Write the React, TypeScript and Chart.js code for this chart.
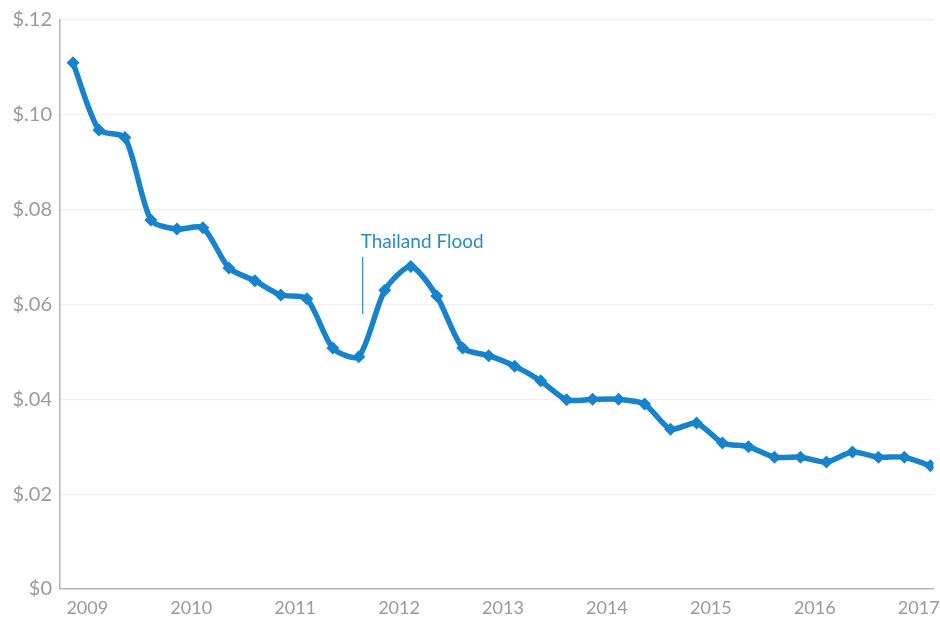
import React, { useEffect, useRef } from "react";
import { Chart, registerables } from "chart.js";

Chart.register(...registerables);

// Quarterly cost per GB (USD), 2009 – 2017
const costPerGB: number[] = [
  0.111, 0.0968, 0.0952, 0.0778, 0.0759, 0.0762, 0.0677, 0.065, 0.062, 0.0612,
  0.0508, 0.049, 0.063, 0.068, 0.0618, 0.0508, 0.0492, 0.047, 0.0439, 0.0399,
  0.04, 0.04, 0.039, 0.0337, 0.035, 0.0308, 0.030, 0.0278, 0.0278, 0.0268,
  0.0289, 0.0278, 0.0278, 0.026,
];
const yearLabels: string[] = ["2009", "2010", "2011", "2012", "2013", "2014", "2015", "2016", "2017"];
const yTicks: number[] = [0, 0.02, 0.04, 0.06, 0.08, 0.1, 0.12];
const annotationText = "Thailand Flood";
const annotationIndex = 11.15;
const annotationTop = 0.07;
const annotationBottom = 0.058;
const annotationLabelY = 0.0732;

const LINE_COLOR = "#1683cc";
const TICK_COLOR = "#9a9a9a";

export default function App() {
  const ref = useRef<HTMLCanvasElement | null>(null);

  useEffect(() => {
    document.body.style.margin = "0";
    const canvas = ref.current;
    if (!canvas) return;

    const annotationPlugin = {
      id: "floodNote",
      afterDatasetsDraw(chart: any) {
        const { ctx, scales } = chart;
        const x = scales.x.getPixelForValue(annotationIndex);
        const y1 = scales.y.getPixelForValue(annotationTop);
        const y2 = scales.y.getPixelForValue(annotationBottom);
        const yl = scales.y.getPixelForValue(annotationLabelY);
        ctx.save();
        ctx.strokeStyle = "#2b8bbf";
        ctx.lineWidth = 1.2;
        ctx.beginPath();
        ctx.moveTo(x, y1);
        ctx.lineTo(x, y2);
        ctx.stroke();
        ctx.fillStyle = "#2b8bbf";
        ctx.font = "19px Lato";
        ctx.textAlign = "left";
        ctx.textBaseline = "middle";
        ctx.fillText(annotationText, x - 2, yl);
        ctx.restore();
      },
    };

    const chart = new Chart(canvas, {
      type: "line",
      data: {
        datasets: [
          {
            data: costPerGB.map((v, i) => ({ x: i, y: v })),
            borderColor: LINE_COLOR,
            backgroundColor: LINE_COLOR,
            borderWidth: 5.5,
            tension: 0.25,
            pointStyle: "rectRot",
            pointRadius: 6.5,
            pointBorderWidth: 0,
            fill: false,
          },
        ],
      },
      options: {
        animation: false,
        responsive: false,
        layout: { padding: { top: 20, right: 2, left: 0, bottom: 0 } },
        plugins: { legend: { display: false }, tooltip: { enabled: false } },
        scales: {
          x: {
            type: "linear",
            min: -0.5,
            max: 33.12,
            afterBuildTicks(axis: any) {
              axis.ticks = yearLabels.map((_, k) => ({ value: 0.55 + 4 * k }));
            },
            afterFit(axis: any) {
              axis.height = 33;
              axis.paddingRight = 0;
              axis.paddingLeft = 0;
            },
            ticks: {
              color: TICK_COLOR,
              font: { family: "Lato", size: 18 },
              padding: 8,
              maxRotation: 0,
              autoSkip: false,
              callback: (v: any) => {
                const k = Math.round((Number(v) - 0.55) / 4);
                return yearLabels[k] ?? "";
              },
            },
            grid: { display: false, drawTicks: false },
            border: { display: true, color: "#b5b5b5", width: 1.5 },
          },
          y: {
            min: 0,
            max: 0.12,
            afterBuildTicks(axis: any) {
              axis.ticks = yTicks.map((v) => ({ value: v }));
            },
            afterFit(axis: any) {
              axis.width = 60;
            },
            ticks: {
              color: TICK_COLOR,
              font: { family: "Lato", size: 20 },
              padding: 8,
              callback: (v: any) => {
                const n = Number(v);
                if (n === 0) return "$0";
                return "$." + String(Math.round(n * 100)).padStart(2, "0");
              },
            },
            grid: { color: "#efefef", lineWidth: 1.2, drawTicks: false },
            border: { display: true, color: "#b5b5b5", width: 1.5 },
          },
        },
      },
      plugins: [annotationPlugin],
    });

    return () => chart.destroy();
  }, []);

  return <canvas ref={ref} width={940} height={622} style={{ display: "block" }} />;
}
